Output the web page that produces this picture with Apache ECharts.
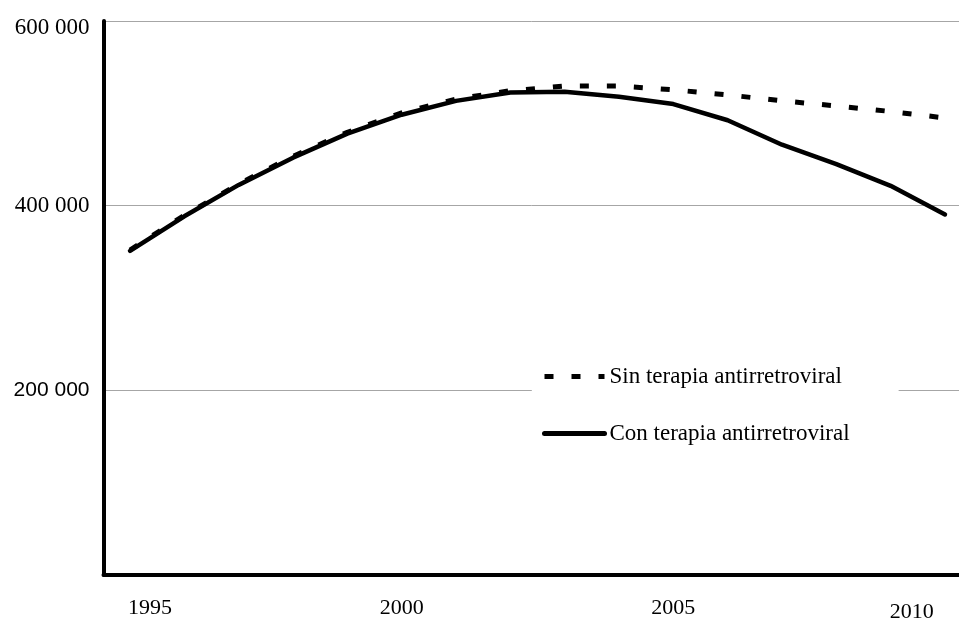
<!DOCTYPE html>
<html>
<head>
<meta charset="utf-8">
<script src="https://cdn.jsdelivr.net/npm/echarts@6/dist/echarts.min.js"></script>
<style>
  html, body { margin: 0; padding: 0; background: #fff; }
  #chart { width: 959px; height: 621px; }
</style>
</head>
<body>
<div id="chart"></div>
<script>
// ---- data ----
var years = [1995, 1996, 1997, 1998, 1999, 2000, 2001, 2002, 2003, 2004, 2005, 2006, 2007, 2008, 2009, 2010];
var sinTerapia = [352000, 389500, 423500, 453500, 479500, 500500, 515500, 524500, 529500, 529500, 525500, 520000, 513500, 508000, 502000, 495000];
var conTerapia = [351000, 388500, 422500, 452000, 478000, 498500, 513500, 522500, 523500, 518000, 510000, 492500, 466000, 445000, 421500, 390500];
var seriesNames = ['Sin terapia antirretroviral', 'Con terapia antirretroviral'];
var xTickLabels = ['1995', '2000', '2005', '2010'];
var yTickLabels = ['', '200 000', '400 000', '600 000'];

// label placement along the x axis (layout, in axis units)
var xLabelAt = [1995.37, 2000, 2005, 2009.39];

function pairs(xs, ys) { return xs.map(function (x, i) { return [x, ys[i]]; }); }
function xLabelFor(v) {
  var best = 0;
  for (var i = 1; i < xLabelAt.length; i++) {
    if (Math.abs(xLabelAt[i] - v) < Math.abs(xLabelAt[best] - v)) best = i;
  }
  return best;
}

var chart = echarts.init(document.getElementById('chart'), null, { renderer: 'canvas' });
chart.setOption({
  animation: false,
  backgroundColor: '#fff',
  grid: { left: 103.5, right: 0, top: 21, bottom: 46, containLabel: false, outerBoundsMode: 'none' },
  xAxis: {
    type: 'value',
    min: 1994.512,
    max: 2010.258,
    axisLine: { show: true, lineStyle: { color: '#000', width: 4 } },
    axisTick: { show: false, customValues: xLabelAt },
    splitLine: { show: false },
    axisLabel: {
      show: true,
      customValues: xLabelAt,
      showMinLabel: true,
      showMaxLabel: true,
      margin: 22,
      color: '#000',
      fontFamily: 'Liberation Serif',
      fontSize: 22,
      formatter: function (v) {
        var k = xLabelFor(v);
        return k === 3 ? '{d|' + xTickLabels[k] + '}' : xTickLabels[k];
      },
      rich: { d: { fontFamily: 'Liberation Serif', fontSize: 22, color: '#000', padding: [4, 0, 0, 0] } }
    }
  },
  yAxis: {
    type: 'value',
    min: 0,
    max: 600000,
    interval: 200000,
    axisLine: { show: true, lineStyle: { color: '#000', width: 4 } },
    axisTick: { show: false },
    splitLine: { show: true, lineStyle: { color: '#a6a6a6', width: 1 } },
    axisLabel: {
      margin: 14,
      color: '#000',
      formatter: function (v) {
        var k = Math.round(v / 200000);
        var t = yTickLabels[k];
        if (!t) return '';
        if (k === 1) return '{s|' + t + '}';
        if (k === 3) return '{t|' + t + '}';
        return '{r|' + t + '}';
      },
      rich: {
        s: { fontFamily: 'Liberation Sans', fontSize: 21, color: '#000' },
        r: { fontFamily: 'Liberation Serif', fontSize: 23, color: '#000' },
        t: { fontFamily: 'Liberation Serif', fontSize: 23, color: '#000', padding: [13, 0, 0, 0] }
      }
    }
  },
  legend: {
    orient: 'vertical',
    left: 532,
    top: 355,
    backgroundColor: '#fff',
    padding: [10, 49, 10, 10],
    itemWidth: 60,
    itemHeight: 14,
    itemGap: 34,
    itemTextGap: 10,
    itemStyle: { opacity: 0 },
    lineStyle: { width: 5 },
    textStyle: { fontFamily: 'Liberation Serif', fontSize: 23, color: '#000' },
    data: seriesNames
  },
  series: [
    {
      name: seriesNames[1],
      type: 'line',
      data: pairs(years, conTerapia),
      symbol: 'none',
      lineStyle: { color: '#000', width: 4.5, type: 'solid', cap: 'round', join: 'round' },
      itemStyle: { color: '#000' },
      z: 2
    },
    {
      name: seriesNames[0],
      type: 'line',
      data: pairs(years, sinTerapia),
      symbol: 'none',
      lineStyle: { color: '#000', width: 5, type: [9, 18], cap: 'butt' },
      itemStyle: { color: '#000' },
      z: 3
    }
  ]
});
</script>
</body>
</html>
